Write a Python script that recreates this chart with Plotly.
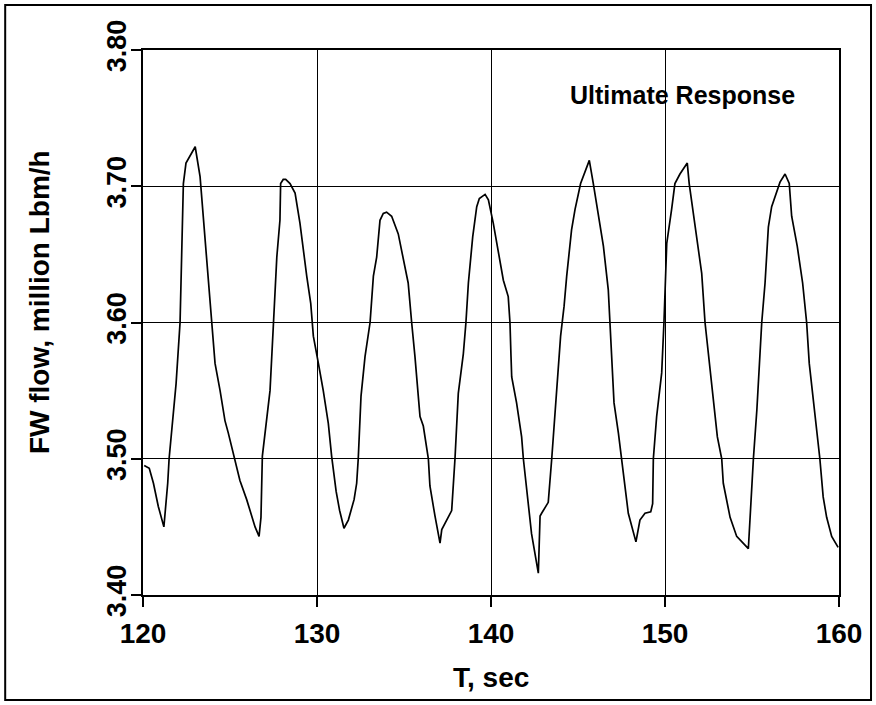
import plotly.graph_objects as go

t_sec = [120.07, 120.36, 120.6, 120.88, 121.2, 121.42, 121.5, 121.65, 121.9, 122.13,
         122.22, 122.32, 122.47, 122.7, 123.0, 123.28, 123.47, 123.66, 123.95, 124.14,
         124.43, 124.71, 124.9, 125.29, 125.57, 125.96, 126.44, 126.67, 126.78, 126.86,
         127.07, 127.3, 127.5, 127.69, 127.87, 127.91, 128.06, 128.2, 128.45, 128.74,
         129.02, 129.21, 129.41, 129.64, 129.79, 130.08, 130.36, 130.65, 130.84, 131.1,
         131.3, 131.55, 131.8, 132.13, 132.28, 132.37, 132.53, 132.76, 133.05, 133.24,
         133.43, 133.62, 133.81, 134.0, 134.29, 134.67, 134.96, 135.24, 135.44, 135.63,
         135.92, 136.11, 136.4, 136.49, 136.78, 137.07, 137.17, 137.45, 137.74, 137.93,
         138.12, 138.41, 138.56, 138.7, 138.95, 139.18, 139.33, 139.66, 139.85, 140.13,
         140.52, 140.71, 140.99, 141.09, 141.15, 141.19, 141.47, 141.76, 141.86, 142.05,
         142.33, 142.72, 142.82, 142.91, 143.29, 143.49, 143.77, 144.0, 144.2, 144.35,
         144.63, 144.83, 145.15, 145.4, 145.65, 145.88, 146.17, 146.46, 146.74, 146.84,
         146.94, 147.07, 147.32, 147.51, 147.7, 147.89, 148.33, 148.56, 148.85, 149.18,
         149.29, 149.33, 149.52, 149.81, 149.94, 150.1, 150.38, 150.57, 150.86, 151.28,
         151.39, 151.62, 151.82, 152.11, 152.3, 152.55, 152.78, 153.01, 153.26, 153.35,
         153.74, 154.12, 154.79, 154.89, 154.99, 155.08, 155.28, 155.43, 155.56, 155.75,
         155.94, 156.13, 156.42, 156.61, 156.9, 157.14, 157.28, 157.6, 157.91, 158.14,
         158.29, 158.52, 158.75, 158.9, 159.09, 159.29, 159.58, 159.95]

fw_flow = [3.495, 3.493, 3.482, 3.465, 3.450, 3.482, 3.500, 3.521, 3.555, 3.600,
           3.653, 3.702, 3.717, 3.722, 3.729, 3.707, 3.678, 3.643, 3.600, 3.570,
           3.550, 3.528, 3.519, 3.499, 3.484, 3.470, 3.450, 3.443, 3.457, 3.502,
           3.524, 3.550, 3.600, 3.648, 3.675, 3.702, 3.705, 3.705, 3.702, 3.695,
           3.673, 3.653, 3.634, 3.614, 3.590, 3.570, 3.550, 3.526, 3.502, 3.476,
           3.462, 3.449, 3.455, 3.470, 3.482, 3.500, 3.546, 3.575, 3.600, 3.634,
           3.648, 3.675, 3.680, 3.681, 3.678, 3.665, 3.648, 3.629, 3.600, 3.575,
           3.531, 3.524, 3.500, 3.480, 3.458, 3.438, 3.448, 3.455, 3.462, 3.500,
           3.548, 3.577, 3.600, 3.629, 3.663, 3.685, 3.691, 3.694, 3.690, 3.673,
           3.643, 3.631, 3.619, 3.600, 3.575, 3.560, 3.541, 3.516, 3.500, 3.477,
           3.445, 3.416, 3.458, 3.460, 3.468, 3.500, 3.550, 3.590, 3.612, 3.634,
           3.668, 3.683, 3.702, 3.711, 3.719, 3.702, 3.678, 3.656, 3.624, 3.600,
           3.570, 3.541, 3.519, 3.500, 3.477, 3.460, 3.439, 3.455, 3.460, 3.461,
           3.467, 3.500, 3.531, 3.563, 3.600, 3.658, 3.683, 3.702, 3.709, 3.717,
           3.702, 3.680, 3.663, 3.636, 3.600, 3.570, 3.546, 3.516, 3.500, 3.482,
           3.457, 3.443, 3.434, 3.457, 3.477, 3.500, 3.536, 3.568, 3.600, 3.629,
           3.670, 3.685, 3.697, 3.703, 3.709, 3.702, 3.678, 3.656, 3.629, 3.600,
           3.570, 3.543, 3.521, 3.500, 3.472, 3.457, 3.443, 3.435]

x_ticks = [120, 130, 140, 150, 160]
y_ticks = [3.40, 3.50, 3.60, 3.70, 3.80]
y_tick_labels = ["3.40", "3.50", "3.60", "3.70", "3.80"]

x_title = "T, sec"
y_title = "FW flow, million Lbm/h"
note = "Ultimate Response"

FONT = "Liberation Sans, Arial, Helvetica, sans-serif"

fig = go.Figure()
fig.add_trace(go.Scatter(x=t_sec, y=fw_flow, mode="lines",
                         line=dict(color="black", width=1.7), showlegend=False))

fig.update_layout(
    width=876, height=705,
    margin=dict(l=143, r=37, t=50, b=110),
    paper_bgcolor="white", plot_bgcolor="white",
    font=dict(family=FONT, color="black", size=28, weight="bold"),
    xaxis=dict(range=[120, 160], tickvals=x_ticks, ticks="outside", ticklen=10,
               tickwidth=1.5, tickcolor="black", showline=True, linecolor="black",
               linewidth=1.5, mirror=True, showgrid=True, gridcolor="black",
               gridwidth=1, zeroline=False, ticklabelstandoff=3,
               tickfont=dict(family=FONT, size=28, color="black", weight="bold")),
    yaxis=dict(range=[3.40, 3.80], tickvals=y_ticks, ticktext=y_tick_labels,
               tickangle=-90, ticks="outside", ticklen=10, tickwidth=1.5,
               tickcolor="black", showline=True, linecolor="black", linewidth=1.5,
               mirror=True, showgrid=True, gridcolor="black", gridwidth=1,
               zeroline=False, ticklabelstandoff=-6,
               tickfont=dict(family=FONT, size=27, color="black", weight="bold")),
    annotations=[
        dict(text=note, x=0.94, y=0.917, xref="paper", yref="paper",
             xanchor="right", yanchor="middle", showarrow=False,
             font=dict(family=FONT, size=25, color="black", weight="bold")),
        dict(text=x_title, x=0.5, y=-0.152, xref="paper", yref="paper",
             xanchor="center", yanchor="middle", showarrow=False,
             font=dict(family=FONT, size=28, color="black", weight="bold")),
        dict(text=y_title, x=-0.149, y=0.538, xref="paper", yref="paper",
             xanchor="center", yanchor="middle", textangle=-90, showarrow=False,
             font=dict(family=FONT, size=28, color="black", weight="bold")),
    ],
    shapes=[dict(type="rect", xref="paper", yref="paper",
                 x0=-0.198, x1=1.046, y0=-0.1927, y1=1.0826,
                 line=dict(color="black", width=2), fillcolor="rgba(0,0,0,0)")],
)

fig.write_html("out.html",
               config={"displayModeBar": False},
               post_script="document.body.style.margin='0px';"
                           "document.body.style.overflow='hidden';")
